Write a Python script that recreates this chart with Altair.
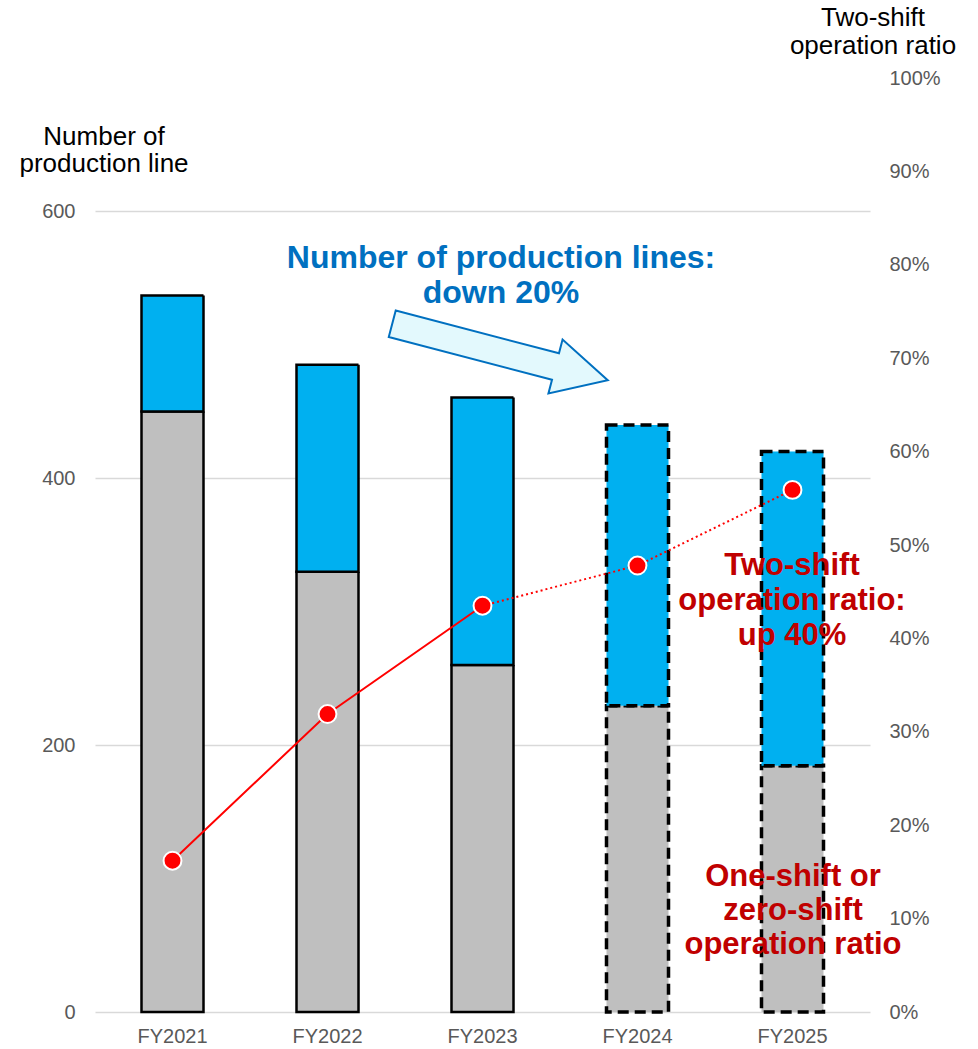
import altair as alt
import pandas as pd

# ---- data ----
years = ["FY2021", "FY2022", "FY2023", "FY2024", "FY2025"]
one_shift_lines = [450, 330, 260, 229.5, 184.5]      # grey part (one/zero shift)
total_lines = [537, 485, 460.5, 440, 420]             # total bar height
two_shift_ratio = [0.162, 0.319, 0.435, 0.478, 0.559]  # red line (right axis)
status = ["actual", "actual", "actual", "plan", "plan"]

left_ticks = [0, 200, 400, 600]
right_ticks = [round(i / 10, 1) for i in range(11)]

FONT = "Liberation Sans"
LABEL_COLOR = "#595959"

bars = pd.DataFrame({"year": years, "one": one_shift_lines,
                     "total": total_lines, "status": status})
bars["zero"] = 0
solid_df = pd.DataFrame({"year": years[:3], "ratio": two_shift_ratio[:3]})
dotted_df = pd.DataFrame({"year": years[2:], "ratio": two_shift_ratio[2:]})
ratio_df = pd.DataFrame({"year": years, "ratio": two_shift_ratio})
dummy = pd.DataFrame({"a": [0]})

x_enc = alt.X(
    "year:N",
    scale=alt.Scale(domain=years, paddingInner=0, paddingOuter=0),
    axis=alt.Axis(title=None, labelAngle=0, domain=False, ticks=False, grid=False,
                  labelPadding=14, labelFontSize=20, labelColor=LABEL_COLOR,
                  labelFont=FONT),
)
bar_scale = alt.Scale(domain=[0, 700], nice=False, zero=True)
ratio_scale = alt.Scale(domain=[0, 1], nice=False, zero=True)

dash = alt.StrokeDash("status:N",
                      scale=alt.Scale(domain=["actual", "plan"], range=[[1, 0], [11, 6]]),
                      legend=None)
sw = alt.StrokeWidth("status:N",
                     scale=alt.Scale(domain=["actual", "plan"], range=[2.5, 3.5]),
                     legend=None)

left_axis = alt.Axis(values=left_ticks, title=None, domain=False, ticks=False,
                     grid=True, gridColor="#D9D9D9", gridWidth=1.5,
                     labelFontSize=20, labelColor=LABEL_COLOR, labelPadding=20,
                     labelFont=FONT, orient="left")
right_axis = alt.Axis(values=right_ticks, format=".0%", title=None, domain=False,
                      ticks=False, grid=False, labelFontSize=20,
                      labelColor=LABEL_COLOR, labelPadding=19, labelFont=FONT,
                      orient="right")

grey = alt.Chart(bars).mark_bar(size=62, color="#BFBFBF", stroke="black").encode(
    x=x_enc,
    y=alt.Y("zero:Q", scale=bar_scale, axis=left_axis),
    y2="one:Q",
    strokeDash=dash, strokeWidth=sw,
)
blue = alt.Chart(bars).mark_bar(size=62, color="#00B0F0", stroke="black").encode(
    x=x_enc,
    y=alt.Y("one:Q", scale=bar_scale, axis=None),
    y2="total:Q",
    strokeDash=dash, strokeWidth=sw,
)

line_solid = alt.Chart(solid_df).mark_line(color="#FF0000", strokeWidth=2).encode(
    x=x_enc,
    y=alt.Y("ratio:Q", scale=ratio_scale, axis=right_axis),
)
line_dotted = alt.Chart(dotted_df).mark_line(color="#FF0000", strokeWidth=2,
                                             strokeDash=[2, 3]).encode(
    x=x_enc,
    y=alt.Y("ratio:Q", scale=ratio_scale, axis=None),
)
points = alt.Chart(ratio_df).mark_point(filled=True, size=320, fill="#FF0000",
                                        stroke="white", strokeWidth=2,
                                        opacity=1, shape="circle").encode(
    x=x_enc,
    y=alt.Y("ratio:Q", scale=ratio_scale, axis=None),
)

arrow_path = ("M-1,-0.123L0.515,-0.123L0.515,-0.25L1,0L0.515,0.25"
              "L0.515,0.123L-1,0.123Z")
arrow = alt.Chart(dummy).mark_point(
    shape=arrow_path, size=49640, angle=14.7, filled=True, fill="#E3F9FD",
    stroke="#0070C0", strokeWidth=2, opacity=1,
).encode(x=alt.value(405), y=alt.value(274))


def label(lines, xv, yv, size, color, weight, lh):
    # yv is the centre of the first line
    return alt.Chart(dummy).mark_text(
        text=lines, font=FONT, fontSize=size, color=color, fontWeight=weight,
        align="center", baseline="middle", lineHeight=lh,
    ).encode(x=alt.value(xv), y=alt.value(yv))


t_left = label(["Number of", "production line"], 9, 59, 26, "black", "normal", 27)
t_right = label(["Two-shift", "operation ratio"], 778, -60, 26, "black", "normal", 28)
t_blue = label(["Number of production lines:", "down 20%"], 406, 180, 32, "#0070C0", "bold", 35)
t_red1 = label(["Two-shift", "operation ratio:", "up 40%"], 697, 488, 31, "#C00000", "bold", 35)
t_red2 = label(["One-shift or", "zero-shift", "operation ratio"], 698, 799, 31, "#C00000", "bold", 34)

chart = alt.layer(
    grey, blue, line_solid, line_dotted, points, arrow,
    t_left, t_right, t_blue, t_red1, t_red2,
).resolve_scale(y="independent").properties(
    width=775, height=934,
    autosize=alt.AutoSizeParams(type="none"),
    padding={"left": 95, "top": 78, "right": 108, "bottom": 37},
).configure(font=FONT).configure_view(stroke=None)

chart.save("out.html", embed_options={"renderer": "svg", "actions": False})
